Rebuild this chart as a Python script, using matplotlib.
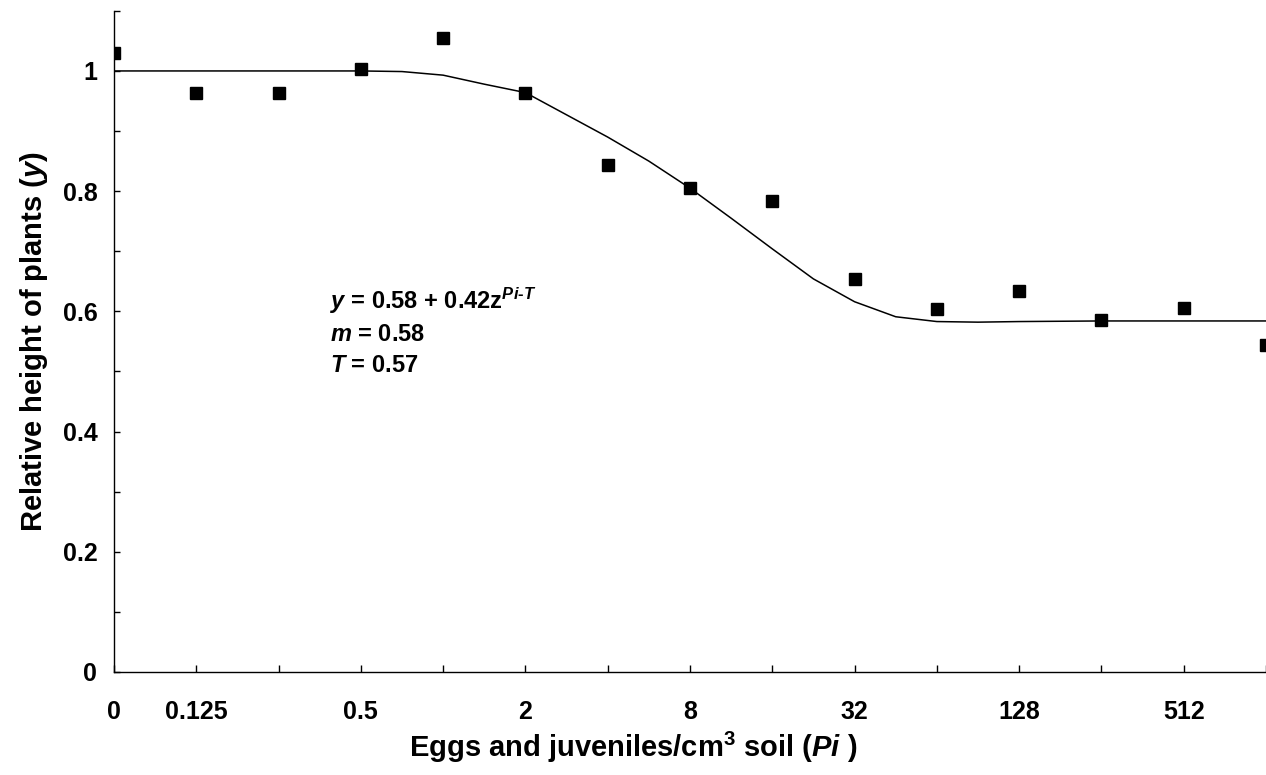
import matplotlib.pyplot as plt

# Pi categories on the x axis (log2 spaced, drawn as equal steps)
conc_labels = ['0', '0.125', '0.25', '0.5', '1', '2', '4', '8', '16',
               '32', '64', '128', '256', '512', '1024']
shown_labels = ['0', '0.125', '', '0.5', '', '2', '', '8', '',
                '32', '', '128', '', '512', '']

# observed relative plant height for each category
height_obs = [1.03, 0.963, 0.963, 1.003, 1.055, 0.963, 0.844, 0.805,
              0.784, 0.654, 0.604, 0.634, 0.586, 0.606, 0.544]

# fitted curve (category index, relative height)
fit_idx = [0, 1, 2, 3, 3.5, 4, 4.5, 5, 5.5, 6, 6.5, 7, 7.5, 8, 8.5,
           9, 9.5, 10, 10.5, 11, 12, 13, 14]
fit_height = [1.0, 1.0, 1.0, 1.0, 0.999, 0.993, 0.978, 0.964, 0.927, 0.890,
              0.850, 0.805, 0.755, 0.704, 0.654, 0.616, 0.591, 0.583,
              0.582, 0.583, 0.584, 0.584, 0.584]

y_ticks = [0, 0.1, 0.2, 0.3, 0.4, 0.5, 0.6, 0.7, 0.8, 0.9, 1.0, 1.1]
y_labels = ['0', '', '0.2', '', '0.4', '', '0.6', '', '0.8', '', '1', '']

plt.rcParams['font.family'] = ['Liberation Sans', 'DejaVu Sans']
plt.rcParams['font.weight'] = 'bold'
plt.rcParams['mathtext.fontset'] = 'custom'
plt.rcParams['mathtext.rm'] = 'Liberation Sans:bold'
plt.rcParams['mathtext.bf'] = 'Liberation Sans:bold'
plt.rcParams['mathtext.it'] = 'Liberation Sans:italic:bold'

fig = plt.figure(figsize=(12.66, 7.75), dpi=100)
ax = fig.add_axes([0.090, 0.133, 0.910, 0.853])

x_obs = list(range(len(conc_labels)))
ax.plot(fit_idx, fit_height, color='black', lw=1.1, zorder=2)
ax.plot(x_obs, height_obs, linestyle='none', marker='s', markersize=8.5,
        color='black', zorder=3)

ax.set_xlim(0, 14)
ax.set_ylim(0, 1.1)

ax.set_xticks(x_obs)
ax.set_xticklabels(shown_labels, fontsize=18, fontweight='bold')
ax.set_yticks(y_ticks)
ax.set_yticklabels(y_labels, fontsize=18, fontweight='bold')

ax.tick_params(axis='x', direction='in', length=5, width=1, pad=20)
ax.tick_params(axis='y', direction='in', length=4, width=1, pad=12)

ax.spines['top'].set_visible(False)
ax.spines['right'].set_visible(False)
ax.spines['left'].set_linewidth(1.0)
ax.spines['bottom'].set_linewidth(1.0)

ax.set_xlabel(r'Eggs and juveniles/cm$^3$ soil ($Pi$ )', fontsize=21,
              fontweight='bold')
# label sits centred on the figure rather than on the axes
ax.xaxis.set_label_coords(0.451, -0.087)
ax.set_ylabel(r'Relative height of plants ($y$)', fontsize=21,
              fontweight='bold', labelpad=9)

ax.text(0.1875, 0.561, r'$y$ = 0.58 + 0.42z$^{\mathit{Pi}\text{-}\mathit{T}}$',
        transform=ax.transAxes, fontsize=17, fontweight='bold', va='center')
ax.text(0.1875, 0.511, r'$m$ = 0.58', transform=ax.transAxes, fontsize=17,
        fontweight='bold', va='center')
ax.text(0.1875, 0.463, r'$T$ = 0.57', transform=ax.transAxes, fontsize=17,
        fontweight='bold', va='center')

fig.savefig('out.png', dpi=100)
